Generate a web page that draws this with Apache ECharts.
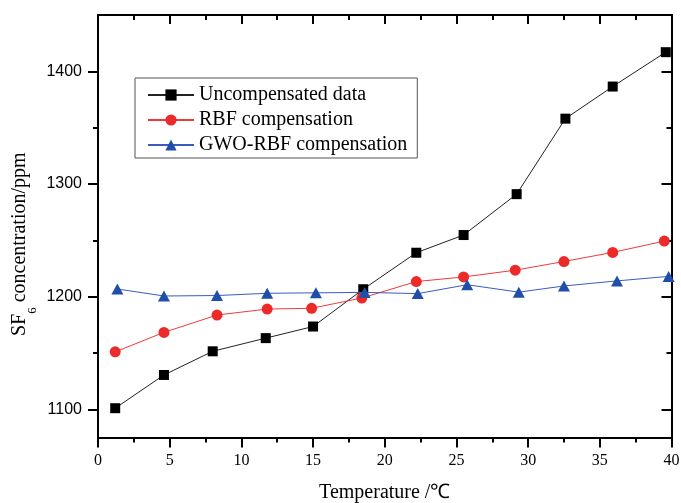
<!DOCTYPE html>
<html>
<head>
<meta charset="utf-8">
<script src="https://cdn.jsdelivr.net/npm/echarts@6/dist/echarts.min.js"></script>
<style>html,body{margin:0;padding:0;background:#fff;}#c{width:681px;height:503px;}</style>
</head>
<body>
<div id="c"></div>
<script>
var seriesNames = ['Uncompensated data', 'RBF compensation', 'GWO-RBF compensation'];
var uncompX = [1.2, 4.6, 8.0, 11.7, 15.0, 18.5, 22.2, 25.5, 29.2, 32.6, 35.9, 39.6];
var uncompY = [1101, 1130.5, 1151.5, 1163.2, 1173.5, 1206.6, 1239, 1254.7, 1291, 1358, 1386.5, 1417];
var rbfX = [1.2, 4.6, 8.3, 11.8, 14.9, 18.4, 22.2, 25.5, 29.1, 32.5, 35.9, 39.5];
var rbfY = [1151, 1168.3, 1183.7, 1189, 1189.7, 1198.8, 1213.4, 1217.5, 1223.5, 1231.2, 1239.3, 1249.3];
var gwoX = [1.35, 4.6, 8.3, 11.8, 15.2, 18.6, 22.3, 25.75, 29.35, 32.5, 36.2, 39.8];
var gwoY = [1206.8, 1200.6, 1201, 1203, 1203.4, 1203.8, 1202.7, 1210.6, 1204, 1209.5, 1214, 1218];
var yMajorTicks = [1100, 1200, 1300, 1400];
var yMinorTicks = [1150, 1250, 1350];

function pairs(xs, ys) { return xs.map(function (x, i) { return [x, ys[i]]; }); }

var serif = '"Liberation Serif", "Times New Roman", serif';
var sans = '"Liberation Sans", Arial, sans-serif';
var axisLine = { show: true, lineStyle: { color: '#000', width: 2 } };
var yRange = { min: 1075, max: 1450 };

var chart = echarts.init(document.getElementById('c'));
chart.setOption({
  backgroundColor: '#fff',
  animation: false,
  grid: { left: 98, right: 9.5, top: 15, bottom: 65.5, containLabel: false, outerBoundsMode: 'none' },
  legend: {
    orient: 'vertical', left: 135, top: 78,
    padding: [7, 10, 3, 12], itemGap: 5, itemWidth: 46, itemHeight: 14,
    borderColor: '#555', borderWidth: 1, borderRadius: 0,
    textStyle: { fontFamily: serif, fontSize: 20, color: '#000', lineHeight: 20 },
    data: seriesNames
  },
  xAxis: [
    {
      type: 'value', position: 'bottom', min: 0, max: 40, interval: 5,
      axisLine: axisLine,
      axisTick: { show: true, length: 10, lineStyle: { color: '#000', width: 2 } },
      minorTick: { show: true, splitNumber: 2, length: 5, lineStyle: { color: '#000', width: 2 } },
      splitLine: { show: false },
      axisLabel: { fontFamily: serif, fontSize: 16, color: '#000', margin: 15 },
      name: 'Temperature /℃', nameLocation: 'middle', nameGap: 45, nameMoveOverlap: false,
      nameTextStyle: { fontFamily: serif, fontSize: 20, color: '#000' }
    },
    {
      type: 'value', position: 'top', min: 0, max: 40, interval: 5,
      axisLine: axisLine,
      axisTick: { show: true, inside: true, length: 9, lineStyle: { color: '#000', width: 2 } },
      minorTick: { show: true, splitNumber: 2, length: 5, lineStyle: { color: '#000', width: 2 } },
      splitLine: { show: false },
      axisLabel: { show: false }
    }
  ],
  yAxis: [
    {
      type: 'value', position: 'left', min: yRange.min, max: yRange.max,
      axisLine: axisLine,
      axisTick: { show: true, length: 10, customValues: yMajorTicks, lineStyle: { color: '#000', width: 2 } },
      splitLine: { show: false },
      axisLabel: { customValues: yMajorTicks, formatter: function (v) { return String(v); }, fontFamily: sans, fontSize: 16, color: '#000', margin: 16 },
      name: 'SF{sub|6} concentration/ppm', nameLocation: 'middle', nameGap: 58, nameMoveOverlap: false,
      nameTextStyle: {
        fontFamily: serif, fontSize: 20, color: '#000', lineHeight: 40, padding: [0, 36, 0, 0],
        rich: {
          sub: { fontFamily: serif, fontSize: 13, lineHeight: 13, verticalAlign: 'top', padding: [26, 0, 0, 0], color: '#000' }
        }
      }
    },
    {
      type: 'value', position: 'left', min: yRange.min, max: yRange.max,
      axisLine: axisLine,
      axisTick: { show: true, length: 5, customValues: yMinorTicks, lineStyle: { color: '#000', width: 2 } },
      splitLine: { show: false },
      axisLabel: { show: false }
    },
    {
      type: 'value', position: 'right', min: yRange.min, max: yRange.max,
      axisLine: axisLine,
      axisTick: { show: true, inside: true, length: 10, customValues: yMajorTicks, lineStyle: { color: '#000', width: 2 } },
      splitLine: { show: false },
      axisLabel: { show: false }
    },
    {
      type: 'value', position: 'right', min: yRange.min, max: yRange.max,
      axisLine: axisLine,
      axisTick: { show: true, inside: true, length: 5, customValues: yMinorTicks, lineStyle: { color: '#000', width: 2 } },
      splitLine: { show: false },
      axisLabel: { show: false }
    }
  ],
  series: [
    {
      name: seriesNames[0], type: 'line', xAxisIndex: 0, yAxisIndex: 0,
      data: pairs(uncompX, uncompY),
      symbol: 'rect', symbolSize: 10, showAllSymbol: true,
      lineStyle: { color: '#222', width: 1 },
      itemStyle: { color: '#000' }, z: 2
    },
    {
      name: seriesNames[1], type: 'line', xAxisIndex: 0, yAxisIndex: 0,
      data: pairs(rbfX, rbfY),
      symbol: 'circle', symbolSize: 11, showAllSymbol: true,
      lineStyle: { color: '#f03a3a', width: 1 },
      itemStyle: { color: '#ec2a2a' }, z: 3
    },
    {
      name: seriesNames[2], type: 'line', xAxisIndex: 0, yAxisIndex: 0,
      data: pairs(gwoX, gwoY),
      symbol: 'triangle', symbolSize: [12, 11], showAllSymbol: true,
      lineStyle: { color: '#3a5cc0', width: 1 },
      itemStyle: { color: '#1f4fa8' }, z: 4
    }
  ]
});
</script>
</body>
</html>
